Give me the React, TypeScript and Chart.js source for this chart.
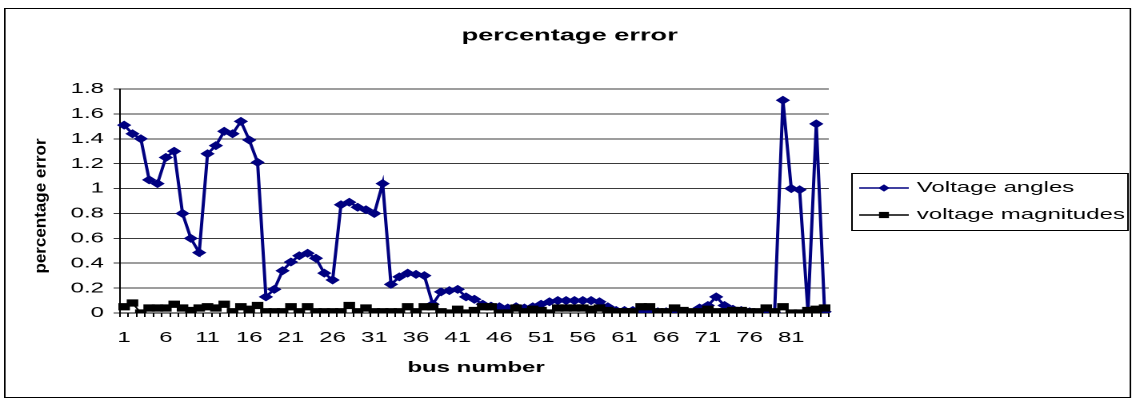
import React, { useEffect, useRef } from 'react';
import { Chart, registerables } from 'chart.js';

Chart.register(...registerables);

const busNumbers = [
  '1', '2', '3', '4', '5', '6', '7', '8', '9', '10',
  '11', '12', '13', '14', '15', '16', '17', '18', '19', '20',
  '21', '22', '23', '24', '25', '26', '27', '28', '29', '30',
  '31', '32', '33', '34', '35', '36', '37', '38', '39', '40',
  '41', '42', '43', '44', '45', '46', '47', '48', '49', '50',
  '51', '52', '53', '54', '55', '56', '57', '58', '59', '60',
  '61', '62', '63', '64', '65', '66', '67', '68', '69', '70',
  '71', '72', '73', '74', '75', '76', '77', '78', '79', '80',
  '81', '82', '83', '84', '85',
];

const voltageAngles = [
  1.51, 1.44, 1.40, 1.07, 1.04, 1.25, 1.30, 0.80, 0.60, 0.485,
  1.28, 1.345, 1.46, 1.44, 1.54, 1.39, 1.21, 0.13, 0.19, 0.34,
  0.41, 0.46, 0.48, 0.44, 0.32, 0.265, 0.87, 0.89, 0.85, 0.83,
  0.80, 1.04, 0.23, 0.29, 0.32, 0.31, 0.30, 0.07, 0.17, 0.18,
  0.19, 0.13, 0.11, 0.07, 0.055, 0.05, 0.04, 0.05, 0.04, 0.05,
  0.07, 0.09, 0.10, 0.10, 0.10, 0.10, 0.10, 0.09, 0.05, 0.02,
  0.02, 0.02, 0.01, 0.00, 0.01, 0.01, 0.02, 0.01, 0.00, 0.04,
  0.06, 0.13, 0.06, 0.03, 0.02, 0.01, 0.00, 0.00, 0.00, 1.71,
  1.00, 0.99, 0.01, 1.52, 0.01,
];

const voltageMagnitudes = [
  0.05, 0.08, 0.00, 0.04, 0.04, 0.04, 0.07, 0.04, 0.02, 0.04,
  0.05, 0.04, 0.07, 0.01, 0.05, 0.03, 0.06, 0.01, 0.01, 0.01,
  0.05, 0.01, 0.05, 0.01, 0.01, 0.01, 0.01, 0.06, 0.01, 0.04,
  0.01, 0.01, 0.01, 0.01, 0.05, 0.01, 0.05, 0.05, 0.01, 0.00,
  0.03, 0.00, 0.02, 0.05, 0.05, 0.00, 0.00, 0.04, 0.01, 0.03,
  0.02, 0.00, 0.04, 0.04, 0.04, 0.04, 0.03, 0.04, 0.02, 0.01,
  0.01, 0.01, 0.05, 0.05, 0.01, 0.01, 0.04, 0.02, 0.01, 0.01,
  0.03, 0.01, 0.01, 0.02, 0.02, 0.01, 0.01, 0.04, 0.01, 0.05,
  0.00, 0.00, 0.02, 0.03, 0.04,
];

const yTickLabels = ['0', '0.2', '0.4', '0.6', '0.8', '1', '1.2', '1.4', '1.6', '1.8'];

const seriesNames = ['Voltage angles', 'voltage magnitudes'];
const chartTitle = 'percentage error';
const xTitle = 'bus number';
const yTitle = 'percentage error';

const FONT = '"Liberation Sans", Arial, sans-serif';
const STRETCH = 1.6;
const W = 710;
const H = 402;
const NAVY = '#000080';

const decorPlugin = {
  id: 'decor',
  afterDraw(chart: any) {
    const ctx: CanvasRenderingContext2D = chart.ctx;
    const area = chart.chartArea;
    ctx.save();
    // outer frame
    ctx.strokeStyle = '#000';
    ctx.lineWidth = 1;
    ctx.strokeRect(3, 8.5, 703.5, 389);

    ctx.fillStyle = '#000';
    // title
    ctx.font = `bold 17px ${FONT}`;
    ctx.textAlign = 'center';
    ctx.textBaseline = 'middle';
    ctx.fillText(chartTitle, 356, 36);

    // x title
    ctx.font = `bold 15px ${FONT}`;
    ctx.fillText(xTitle, (area.left + area.right) / 2 + 1, 368);

    // y title (rotated, squeezed)
    ctx.save();
    ctx.translate(25.6, 206);
    ctx.rotate(-Math.PI / 2);
    ctx.scale(1, 0.58);
    ctx.font = `bold 17px ${FONT}`;
    ctx.fillText(yTitle, 0, 0);
    ctx.restore();

    // legend
    const lx = 532, ly = 173, lw = 172.5, lh = 57;
    ctx.strokeStyle = '#000';
    ctx.lineWidth = 1;
    ctx.strokeRect(lx + 0.5, ly + 0.5, lw, lh);
    const rows = [188, 215];
    const colors = [NAVY, '#000'];
    rows.forEach((y, i) => {
      ctx.strokeStyle = colors[i];
      ctx.lineWidth = 1.5;
      ctx.beginPath();
      ctx.moveTo(537, y);
      ctx.lineTo(568, y);
      ctx.stroke();
      ctx.fillStyle = colors[i];
      const cx = 552.5;
      ctx.beginPath();
      if (i === 0) {
        const r = 3.6;
        ctx.moveTo(cx, y - r);
        ctx.lineTo(cx + r, y);
        ctx.lineTo(cx, y + r);
        ctx.lineTo(cx - r, y);
        ctx.closePath();
      } else {
        const s = 3.1;
        ctx.rect(cx - s, y - s, 2 * s, 2 * s);
      }
      ctx.fill();
      ctx.fillStyle = '#000';
      ctx.font = `15px ${FONT}`;
      ctx.textAlign = 'left';
      ctx.textBaseline = 'middle';
      ctx.fillText(seriesNames[i], 573, y);
    });
    ctx.restore();
  },
};

export default function App() {
  const ref = useRef<HTMLCanvasElement>(null);

  useEffect(() => {
    document.body.style.margin = '0';
    const chart = new Chart(ref.current as HTMLCanvasElement, {
      type: 'line',
      data: {
        labels: busNumbers,
        datasets: [
          {
            label: seriesNames[0],
            data: voltageAngles,
            borderColor: NAVY,
            backgroundColor: NAVY,
            borderWidth: 2,
            pointStyle: 'rectRot',
            pointRadius: 3.8,
            pointBorderWidth: 1,
            pointBorderColor: NAVY,
            pointBackgroundColor: NAVY,
            tension: 0,
            order: 1,
          },
          {
            label: seriesNames[1],
            data: voltageMagnitudes,
            borderColor: '#000',
            backgroundColor: '#000',
            borderWidth: 1.2,
            pointStyle: 'rect',
            pointRadius: 4.4,
            pointBorderWidth: 1,
            pointBorderColor: '#000',
            pointBackgroundColor: '#000',
            tension: 0,
            order: 0,
          },
        ],
      },
      options: {
        responsive: true,
        maintainAspectRatio: false,
        animation: false,
        devicePixelRatio: 2,
        layout: { padding: { top: 89, right: W - 518, left: 0, bottom: 0 } },
        plugins: {
          legend: { display: false },
          title: { display: false },
          tooltip: { enabled: false },
        },
        scales: {
          x: {
            type: 'category',
            offset: true,
            grid: {
              offset: true,
              drawOnChartArea: false,
              drawTicks: true,
              tickLength: 4,
              color: '#000',
            },
            border: { display: true, color: '#000', width: 1 },
            ticks: {
              autoSkip: false,
              maxRotation: 0,
              minRotation: 0,
              padding: 12,
              color: '#000',
              font: { family: FONT, size: 15 },
              callback: (_v: any, idx: number) => (idx % 5 === 0 ? busNumbers[idx] : ''),
            },
            afterFit: (s: any) => {
              s.height = H - 313;
            },
          },
          y: {
            min: 0,
            max: 1.8,
            ticks: {
              stepSize: 0.2,
              padding: 6,
              color: '#000',
              font: { family: FONT, size: 15 },
              callback: (_v: any, idx: number) => yTickLabels[idx] ?? '',
            },
            grid: {
              color: '#3a3a3a',
              lineWidth: 1,
              tickLength: 4,
              drawTicks: true,
            },
            border: { display: true, color: '#000', width: 1 },
            afterFit: (s: any) => {
              s.width = 75;
            },
          },
        },
      },
      plugins: [decorPlugin],
    });
    return () => chart.destroy();
  }, []);

  return (
    <div style={{ width: 1136, height: 402, overflow: 'hidden', background: '#fff' }}>
      <div
        style={{
          width: W,
          height: H,
          position: 'relative',
          transform: `scaleX(${STRETCH})`,
          transformOrigin: '0 0',
        }}
      >
        <canvas ref={ref} />
      </div>
    </div>
  );
}
